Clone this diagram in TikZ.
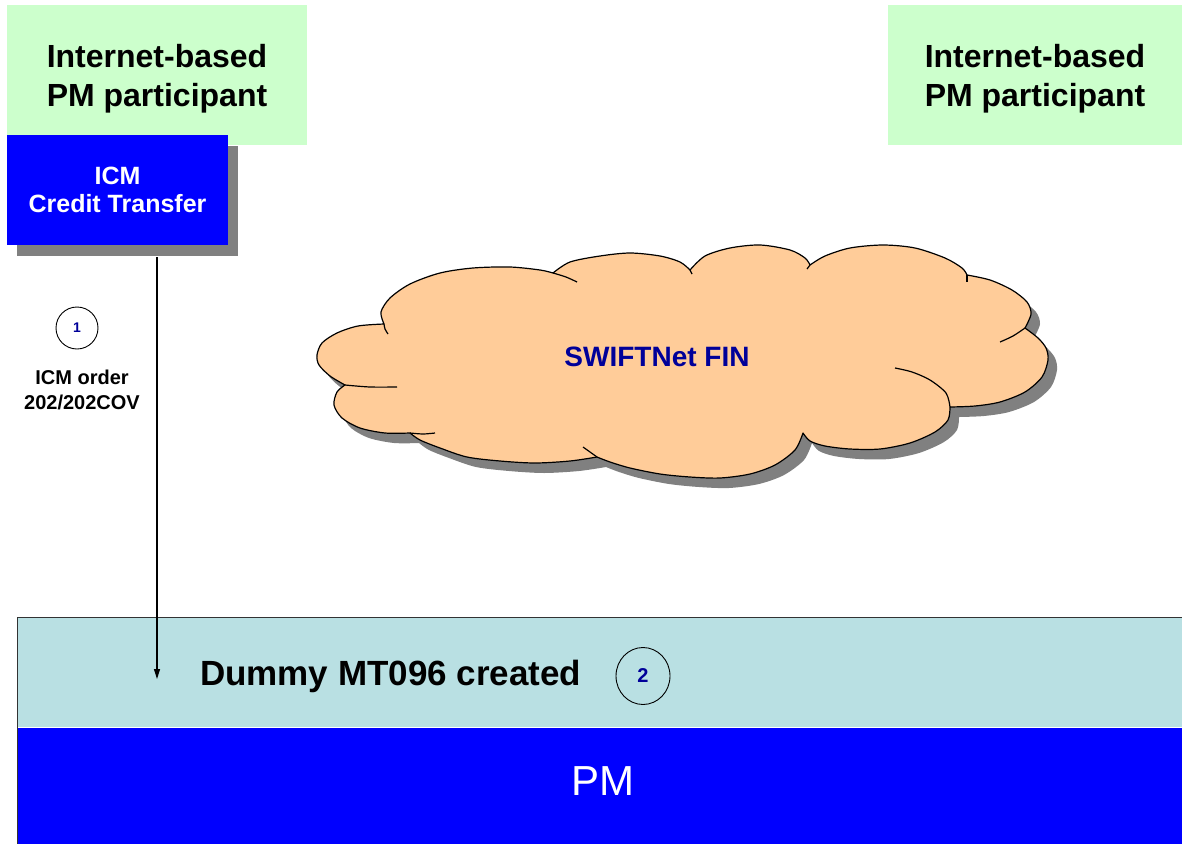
\documentclass[tikz,border=0pt]{standalone}
\usepackage{fontspec}
\setmainfont{Liberation Sans}
\usepackage{tikz}
\usetikzlibrary{shapes.geometric, arrows.meta, calc, positioning, shadows}
\definecolor{participantgreen}{HTML}{CCFFCC}
\definecolor{icmblue}{HTML}{0000FF}
\definecolor{cloudpeach}{HTML}{FFCC99}
\definecolor{shadowgray}{HTML}{808080}
\definecolor{navytext}{HTML}{000099}
\definecolor{bandcyan}{HTML}{B9E0E3}
\tikzstyle{participant} = [rectangle, fill=participantgreen, minimum width=300pt, minimum height=140pt, align=center, font=\bfseries\fontsize{32}{39}\selectfont]
\tikzstyle{block} = [rectangle, fill=icmblue, text=white, minimum width=221pt, minimum height=110pt, align=center, font=\bfseries\fontsize{25}{28}\selectfont, drop shadow={shadow xshift=10pt, shadow yshift=-11pt, fill=shadowgray, opacity=1}]
\tikzstyle{stepcircle} = [circle, draw=black, line width=0.9pt, minimum size=42pt, inner sep=0pt, text=navytext, font=\bfseries\fontsize{14}{16}\selectfont]
\tikzstyle{note} = [align=center, inner sep=0pt, font=\bfseries\fontsize{20}{25}\selectfont]
\tikzstyle{band} = [rectangle, inner sep=0pt, anchor=north west, minimum width=1175pt]
\tikzstyle{arrow} = [line width=1.2pt, -{Triangle[width=6pt,length=10pt]}]
\tikzstyle{cloudline} = [draw=black, line width=1.2pt, line join=round]
\newcommand{\cloudoutline}{plot[smooth] coordinates {(384,324) (381,312) (390,298) (410,284) (440,273) (473,268) (510,267) (540,270) (553,273)}
  -- plot[smooth] coordinates {(553,273) (570,262) (600,256) (630,253) (660,256) (680,262) (690,270)}
  -- plot[smooth] coordinates {(690,270) (705,256) (730,248) (760,245) (790,250) (805,258) (810,265)}
  -- plot[smooth] coordinates {(810,265) (825,256) (850,248) (883,245) (915,248) (945,258) (962,268) (967,275)}
  -- plot[smooth] coordinates {(967,275) (990,280) (1012,290) (1027,302) (1031,314) (1025,328)}
  -- plot[smooth] coordinates {(1025,328) (1038,338) (1046,348) (1048,360) (1042,377) (1025,392) (1000,402) (975,406) (950,407)}
  -- plot[smooth] coordinates {(950,407) (948,420) (935,432) (910,443) (880,449) (850,449) (825,446) (810,441) (803,433)}
  -- plot[smooth] coordinates {(803,433) (795,450) (775,465) (750,474) (720,478) (690,477) (660,474) (630,468) (610,462) (597,457)}
  -- plot[smooth] coordinates {(597,457) (570,461) (535,463) (500,461) (467,457) (440,448) (420,440) (410,433)}
  -- plot[smooth] coordinates {(410,433) (385,433) (360,428) (342,418) (334,405) (337,392) (345,385)}
  -- plot[smooth] coordinates {(345,385) (330,376) (319,365) (317,355) (322,343) (337,333) (358,326) (384,324)}
  -- cycle}

\begin{document}
\begin{tikzpicture}[x=1pt, y=-1pt]
	\useasboundingbox (0,0) rectangle (1182,843);
	\node (ParticipantLeft) [participant] at (157,75) {};
	\node (ParticipantRight) [participant, minimum width=294pt] at (1035,75) {};
	\node (LeftTitle) [participant, fill=none, minimum width=0pt, minimum height=0pt] at (157,79) {Internet-based\\PM participant};
	\node (RightTitle) [participant, fill=none, minimum width=0pt, minimum height=0pt] at (1035,79) {Internet-based\\PM participant};
	\node (CreditTransfer) [block] at (117.5,190) {ICM\\Credit Transfer};
	\begin{scope}[shift={(9,10)}]
		\fill [shadowgray] \cloudoutline;
	\end{scope}
	\filldraw [fill=cloudpeach, cloudline] \cloudoutline;
	\draw [cloudline] plot[smooth] coordinates {(384,324) (385,329) (388,334)};
	\draw [cloudline] plot[smooth] coordinates {(553,273) (566,277) (577,282)};
	\draw [cloudline] (690,270) -- (692,274);
	\draw [cloudline] (810,265) -- (807,269);
	\draw [cloudline] (967,275) -- (967,282);
	\draw [cloudline] plot[smooth] coordinates {(1025,328) (1013,336) (1000,342)};
	\draw [cloudline] plot[smooth] coordinates {(950,407) (946,393) (930,380) (912,372) (895,368)};
	\draw [cloudline] plot[smooth] coordinates {(597,457) (590,452) (583,447)};
	\draw [cloudline] plot[smooth] coordinates {(410,433) (423,434) (435,433)};
	\draw [cloudline] plot[smooth] coordinates {(345,385) (370,387) (397,387)};
	\node (Swift) [text=navytext, font=\bfseries\fontsize{28}{32}\selectfont] at (657,357) {SWIFTNet FIN};
	\node (DummyBand) [band, fill=bandcyan, minimum height=110pt] at (17,617) {};
	\node (PMBand) [band, fill=icmblue, minimum height=120pt] at (DummyBand.south west) {};
	\draw [line width=1pt, black!80] (PMBand.south west) |- (DummyBand.north east);
	\node (PMText) [text=white, font=\fontsize{42}{48}\selectfont] at (603,781) {PM};
	\node (StepOne) [stepcircle] at (77,328) {1};
	\node (OrderNote) [note] at (82,390) {ICM order\\202/202COV};
	\node (StepTwo) [stepcircle, ellipse, minimum width=54pt, minimum height=57pt, font=\bfseries\fontsize{20}{24}\selectfont] at (643,676) {2};
	\node (DummyText) [note, left = 34pt of StepTwo, font=\bfseries\fontsize{35}{40}\selectfont] {Dummy MT096 created};
	\coordinate (ArrowEnd) at (157,679);
	\draw [arrow] ([yshift=-12pt]CreditTransfer.south -| ArrowEnd) -- (ArrowEnd);
\end{tikzpicture}
\end{document}
